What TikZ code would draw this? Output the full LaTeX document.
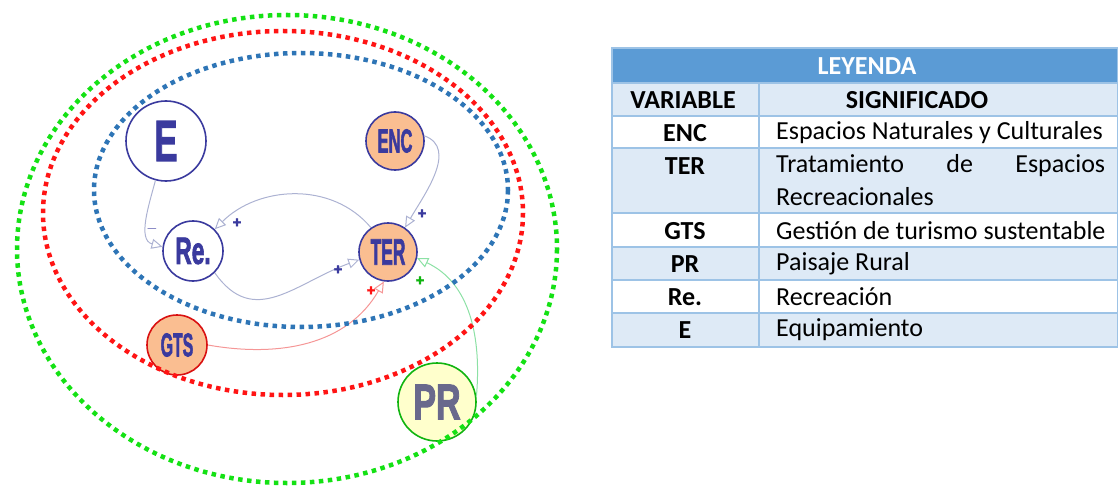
\documentclass[tikz,border=0pt]{standalone}
\usepackage{fontspec}
\setmainfont{Carlito}
\newfontfamily\circfont[BoldFeatures={FakeBold=2.5}]{Liberation Sans}
\usetikzlibrary{arrows.meta,positioning,calc}

\definecolor{navy}{RGB}{58,58,158}
\definecolor{linkgray}{RGB}{172,178,210}
\definecolor{linkred}{RGB}{245,150,150}
\definecolor{linkgreen}{RGB}{140,225,165}
\definecolor{orangefill}{RGB}{250,190,145}
\definecolor{prfill}{RGB}{255,255,204}
\definecolor{prtext}{RGB}{105,105,140}
\definecolor{ringblue}{RGB}{46,117,182}
\definecolor{ringred}{RGB}{255,20,20}
\definecolor{ringgreen}{RGB}{20,225,20}
\definecolor{headblue}{RGB}{91,155,213}
\definecolor{rowblue}{RGB}{222,234,246}
\definecolor{gridblue}{RGB}{157,195,230}

\newcommand{\vartext}[3]{\scalebox{#2}[1]{\circfont\bfseries\fontsize{#1}{#1}\selectfont #3}}

\begin{document}
\begin{tikzpicture}[x=1pt,y=-1pt,
    var/.style={circle, draw=navy, line width=1.6pt, fill=white, inner sep=0pt, text=navy},
    link/.style={line width=1pt, draw=linkgray, -{Triangle[open,length=11pt,width=10pt]}},
    ring/.style={line width=4.5pt, dash pattern=on 4.5pt off 4.5pt},
    sign/.style={font=\circfont\bfseries\fontsize{15}{15}\selectfont, text=navy, inner sep=0pt},
    cell/.style={font=\fontsize{26}{30}\selectfont, inner sep=0pt},
    head/.style={cell, font=\fontsize{26}{30}\selectfont\bfseries},
  ]
  \useasboundingbox (0,0) rectangle (1118,489);

  % variables
  \node[var, minimum size=80pt] (E) at (166,141) {\vartext{58}{0.6}{E}};
  \node[var, minimum size=58pt, fill=orangefill] (ENC) at (395,141) {\vartext{33}{0.5}{ENC}};
  \node[var, minimum size=60pt] (Re) at (193,251) {\vartext{38}{0.6}{Re.}};
  \node[var, minimum size=58pt, fill=orangefill] (TER) at (388,252) {\vartext{37}{0.47}{TER}};
  \node[var, minimum size=60pt, fill=orangefill, draw=ringred!85!black] (GTS) at (177,345) {\vartext{33}{0.48}{GTS}};
  \node[var, minimum size=78pt, fill=prfill, draw=ringgreen!80!black, text=prtext] (PR) at (437,402) {\vartext{50}{0.68}{PR}};

  % relations
  \draw[link] (E.255) to[out=255,in=165] (Re.172);
  \draw[link] (TER.125) to[out=130,in=45] (Re.45);
  \draw[link] (Re.-45) to[out=-55,in=200,looseness=1.2] (TER.195);
  \draw[link] (ENC.10) to[out=-20,in=60] (TER.55);
  \draw[link, draw=linkred] (GTS.0) to[out=-10,in=240] (TER.262);
  \draw[link, draw=linkgreen] (PR.8) to[out=85,in=-25] (TER.-12);

  \node[sign] (s1) at (152,229) {$-$};
  \node[sign] (s2) at (237,223) {+};
  \node[sign] (s3) at (338,270) {+};
  \node[sign] (s4) at (422,214) {+};
  \node[sign, text=ringred] (s5) at (371,291) {+};
  \node[sign, text=ringgreen!80!black] (s6) at (420,281) {+};

  % loops
  \draw[ring, ringgreen] (287,249) ellipse[x radius=270, y radius=234];
  \draw[ring, ringred] (283,213) ellipse[x radius=240, y radius=182];
  \draw[ring, ringblue] (301,190) ellipse[x radius=207, y radius=137];

  % legend
  \fill[headblue] (612,48) rectangle (1118,83);
  \fill[rowblue] (612,83) rectangle (1118,116);
  \fill[rowblue] (612,148) rectangle (1118,213);
  \fill[rowblue] (612,247) rectangle (1118,280);
  \fill[rowblue] (612,313) rectangle (1118,347);
  \draw[gridblue, line width=1.3pt]
    (612,83) -- (1118,83) (612,116) -- (1118,116) (612,148) -- (1118,148)
    (612,213) -- (1118,213) (612,247) -- (1118,247) (612,280) -- (1118,280)
    (612,313) -- (1118,313) (759,83) -- (759,347);
  \draw[gridblue, line width=1.3pt] (612,48) rectangle (1118,347);

  \node[head, text=white] (ley) at (867,66) {LEYENDA};
  \node[head] (hvar) at (683,100) {VARIABLE};
  \node[head] (hsig) at (917,100) {SIGNIFICADO};

  \node[head] (kENC) at (685,133) {ENC};
  \node[head] (kTER) at (685,166) {TER};
  \node[head] (kGTS) at (685,231) {GTS};
  \node[head] (kPR) at (685,264) {PR};
  \node[head] (kRe) at (685,297) {Re.};
  \node[head] (kE) at (685,330) {E};

  \node[cell, anchor=west] (dENC) at (776,133) {Espacios Naturales y Culturales};
  \node[cell, anchor=west] (dTER) at (776,166) {\makebox[329pt][s]{Tratamiento de Espacios}};
  \node[cell, anchor=west] (dTER2) at (776,197) {Recreacionales};
  \node[cell, anchor=west] (dGTS) at (776,231) {Gestión de turismo sustentable};
  \node[cell, anchor=west] (dPR) at (776,264) {Paisaje Rural};
  \node[cell, anchor=west] (dRe) at (776,297) {Recreación};
  \node[cell, anchor=west] (dE) at (776,330) {Equipamiento};
\end{tikzpicture}
\end{document}
